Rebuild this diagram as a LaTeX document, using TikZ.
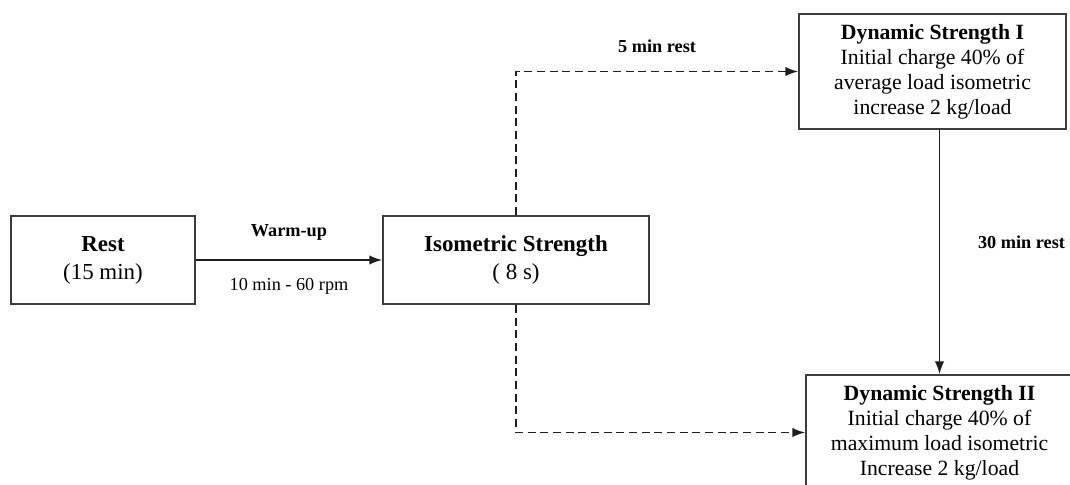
\documentclass[tikz,border=0pt]{standalone}
\usepackage{fontspec}
\setmainfont{Liberation Serif}
\usetikzlibrary{arrows.meta}
\definecolor{boxline}{RGB}{60,60,60}
\definecolor{flowline}{RGB}{30,30,30}
\tikzset{every picture/.style={line width=0.75pt}}

\begin{document}
\begin{tikzpicture}[x=0.75pt,y=0.75pt,yscale=-1,xscale=1,
    stagebox/.style={draw=boxline, line width=1.3pt, rectangle, align=center, inner sep=0pt},
    bigtext/.style={font=\fontsize{17.2}{21}\selectfont},
    smalltext/.style={font=\fontsize{16.3}{18.75}\selectfont},
    flowlabel/.style={font=\fontsize{13.7}{16}\selectfont},
    flow/.style={draw=flowline, line width=1.2pt, -{Latex[length=9.5pt,width=7pt]}},
    restflow/.style={flow, dash pattern=on 6pt off 3.5pt}]
      \useasboundingbox (0,0) rectangle (1070,485);
      \clip (0,0) rectangle (1070,485);

      %Shape: Rectangle [rest]
      \node [stagebox, bigtext, minimum width=138pt, minimum height=66pt] (rest) at (103,260) {\textbf{Rest}\\(15 min)};
      %Shape: Rectangle [isometric]
      \node [stagebox, bigtext, minimum width=199.5pt, minimum height=66pt] (iso) at (516,260) {\textbf{Isometric Strength}\\( 8 s)};
      %Shape: Rectangle [dynamic I]
      \node [stagebox, smalltext, minimum width=200.25pt, minimum height=86.25pt] (dynI) at (932.5,71.5) {\textbf{Dynamic Strength I}\\Initial charge 40\% of\\average load isometric\\increase 2 kg/load};
      %Shape: Rectangle [dynamic II]
      \node [stagebox, smalltext, minimum width=200.25pt, minimum height=86.25pt] (dynII) at (939.5,432.5) {\textbf{Dynamic Strength II}\\Initial charge 40\% of\\maximum load isometric\\Increase 2 kg/load};

      %Straight Lines [warm-up]
      \draw [flow] (rest.east) -- (iso.west)
        node [midway, yshift=21pt, flowlabel] {\textbf{Warm-up}}
        node [midway, yshift=-20pt, flowlabel] {10 min - 60 rpm};
      %Dashed Lines [5 min rest]
      \draw [restflow] (iso.north) |- (dynI.west)
        node [pos=0.75, yshift=18.75pt, flowlabel] {\textbf{5 min rest}};
      %Dashed Lines [to dynamic II]
      \draw [restflow] (iso.south) |- (dynII.west);
      %Straight Lines [30 min rest]
      \draw [flow] (dynI.south -| dynII.north) -- (dynII.north)
        node [pos=0.46, xshift=61.5pt, flowlabel] {\textbf{30 min rest}};
    \end{tikzpicture}
\end{document}
